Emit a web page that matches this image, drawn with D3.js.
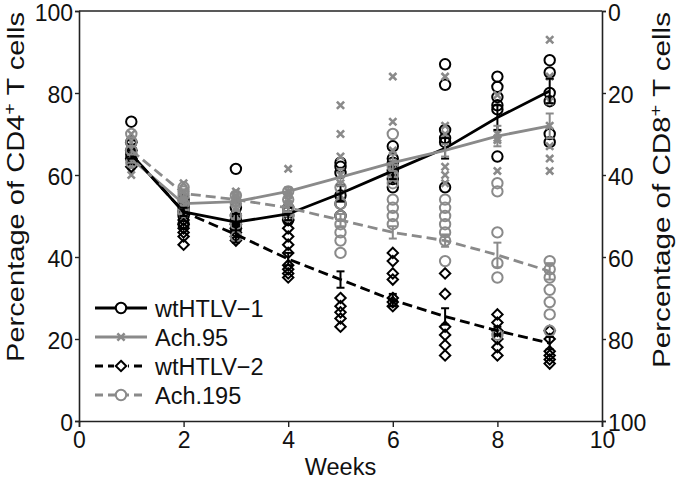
<!DOCTYPE html>
<html><head><meta charset="utf-8">
<script src="https://cdn.jsdelivr.net/npm/d3@7/dist/d3.min.js"></script>
<style>body{margin:0;background:#fff}svg text{font-family:"Liberation Sans",Arial,sans-serif}</style>
</head><body><svg id="c" width="680" height="482"></svg>
<script>
const weeks = [1,2,3,4,5,6,7,8,9];
const seriesNames = ["wtHTLV\u22121","Ach.95","wtHTLV\u22122","Ach.195"];
// mean values per week
const meanWt1 = [65, 51, 48.5, 50.5, 55.5, 61, 66.5, 74, 80.5];
const meanAch95 = [64, 53, 53.5, 56, 59.5, 63, 66, 69.5, 72];
const meanWt2 = [65, 51, 45.5, 39.5, 34.5, 29.5, 25.5, 22, 19];
const meanAch195 = [66, 55.5, 54, 52, 49, 46, 44, 40.5, 36.5];
// SEM
const semWt1 = [1, 1, 2, 1.5, 2, 2, 2.5, 3, 3];
const semAch95 = [1, 1, 1, 1, 2, 2, 1.5, 2.5, 3];
const semWt2 = [1, 1, 2, 1.5, 2, 1.5, 2, 1, 1.5];
const semAch195 = [1, 1, 1, 1, 1.5, 1.5, 1.5, 3, 2];
// individual values per week
const ptsWt1 = [[73,66,64,65,68],[48,50,51,52,53,54],[61.5,47,48,49,50,52],[49,50,51,52],[63,62,60.5,55,53,50],[67,64,63,61,59,57],[87,82,71,69,68,57],[84,81.5,79,77,76,64.5],[88,85,80,78,70,68]];
const ptsAch95 = [[60,62,64,66,68,70],[50,52,54,56,58],[50,52,54,55,56],[61.5,56,55,54,53],[77,70,64.5,60,58,55],[84,73,66,63,61,59],[84,72,70,62,60,58],[79.5,70,69,68.5,61],[93,84,78,72,67,64,61]];
const ptsWt2 = [[62,64,66,68],[43,45,46,47,48,49],[44,45,46,47,48],[49,47,45,43,41,38,37,36,35],[30,28,26.5,25,23],[41,39,36,34.5,30,29,28],[36,31,23,21,18.5,16],[26,24,22,20,18,16],[22,20,17,16,15,14]];
const ptsAch195 = [[63,66,68,70],[51,53,55,56,57],[45,48,50,53,55],[56,54,52,51,50],[57,53,50,48,46,44,41],[70,62,60,58,54,52,50,48],[54,52,50,48,46,44,39],[58,56,46,38.5,35,21],[39,37,35,32,29,26,22]];
const xTicks = [0,2,4,6,8,10];
const yTicks = [0,20,40,60,80,100];

const svg = d3.select("#c");
const L=79, R=602, T=11, B=421;
const FS=23;
const x = d3.scaleLinear().domain([0,10]).range([L,R]);
const y = d3.scaleLinear().domain([0,100]).range([B,T]);
const y2 = d3.scaleLinear().domain([0,100]).range([T,B]);
const GRAY="#8a8a8a";

const series = [
  {name:seriesNames[0], mean:meanWt1, sem:semWt1, pts:ptsWt1, color:"#000", dash:null, sym:"circle"},
  {name:seriesNames[1], mean:meanAch95, sem:semAch95, pts:ptsAch95, color:GRAY, dash:null, sym:"x"},
  {name:seriesNames[2], mean:meanWt2, sem:semWt2, pts:ptsWt2, color:"#000", dash:"10,5", sym:"diamond"},
  {name:seriesNames[3], mean:meanAch195, sem:semAch195, pts:ptsAch195, color:GRAY, dash:"10,5", sym:"circle"}
];

function marker(g, sym, cx, cy, color){
  if(sym==="circle"){
    g.append("circle").attr("cx",cx).attr("cy",cy).attr("r",5.2).attr("fill","none").attr("stroke",color).attr("stroke-width",2);
  } else if(sym==="diamond"){
    const s=5.2;
    g.append("path").attr("d",`M${cx},${cy-s}L${cx+s},${cy}L${cx},${cy+s}L${cx-s},${cy}Z`).attr("fill","none").attr("stroke",color).attr("stroke-width",2);
  } else {
    const s=3.6;
    g.append("path").attr("d",`M${cx-s},${cy-s}L${cx+s},${cy+s}M${cx-s},${cy+s}L${cx+s},${cy-s}`).attr("stroke",color).attr("stroke-width",2.6);
  }
}

// axes
const gx = svg.append("g").attr("transform",`translate(0,${B})`).call(d3.axisBottom(x).tickValues(xTicks).tickSize(6).tickPadding(5));
const gy = svg.append("g").attr("transform",`translate(${L},0)`).call(d3.axisLeft(y).tickValues(yTicks).tickSize(4).tickPadding(2));
const gy2 = svg.append("g").attr("transform",`translate(${R},0)`).call(d3.axisRight(y2).tickValues(yTicks).tickSize(4).tickPadding(2));
[gx,gy,gy2].forEach(g=>{
  g.select(".domain").attr("stroke","#222").attr("stroke-width",1.6);
  g.selectAll(".tick line").attr("stroke","#222").attr("stroke-width",1.4);
  g.selectAll(".tick text").attr("font-size",FS).attr("fill","#111");
});
[gy,gy2].forEach(g=>g.selectAll(".tick text").attr("dy","0.42em"));
svg.append("line").attr("x1",L).attr("x2",R).attr("y1",T).attr("y2",T).attr("stroke","#222").attr("stroke-width",1.6);

// points
const gp = svg.append("g");
series.forEach(s=>{
  s.pts.forEach((arr,i)=>arr.forEach(v=>marker(gp,s.sym,x(weeks[i]),y(v),s.color)));
});
// mean lines + error bars
const line = d3.line().x((d,i)=>x(weeks[i])).y(d=>y(d));
series.forEach(s=>{
  svg.append("path").attr("d",line(s.mean)).attr("fill","none").attr("stroke",s.color).attr("stroke-width",2.8).attr("stroke-dasharray",s.dash);
  s.mean.forEach((m,i)=>{
    const cx=x(weeks[i]);
    const g=svg.append("g").attr("stroke",s.color).attr("stroke-width",2);
    g.append("line").attr("x1",cx).attr("x2",cx).attr("y1",y(m-s.sem[i])).attr("y2",y(m+s.sem[i]));
    [m-s.sem[i],m+s.sem[i]].forEach(v=>g.append("line").attr("x1",cx-4).attr("x2",cx+4).attr("y1",y(v)).attr("y2",y(v)));
  });
});

// legend
const lg = svg.append("g");
const legY=[308,337,366,395];
series.forEach((s,i)=>{
  lg.append("line").attr("x1",95).attr("x2",147).attr("y1",legY[i]).attr("y2",legY[i]).attr("stroke",s.color).attr("stroke-width",2.8).attr("stroke-dasharray",s.dash?"8,5":null);
  const mg=lg.append("g");
  if(s.sym==="circle") mg.append("circle").attr("cx",121).attr("cy",legY[i]).attr("r",5.2).attr("fill","#fff");
  if(s.sym==="diamond") mg.append("rect").attr("x",114).attr("y",legY[i]-5).attr("width",14).attr("height",10).attr("fill","#fff");
  marker(mg,s.sym,121,legY[i],s.color);
  lg.append("text").attr("x",155).attr("y",legY[i]+8.5).attr("font-size",FS+0.5).attr("fill","#111").text(s.name);
});

// titles
svg.append("text").attr("x",(L+R)/2).attr("y",475).attr("text-anchor","middle").attr("font-size",FS+0.5).attr("fill","#111").text("Weeks");
function ytitle(tx, cy, label, target){
  const t=svg.append("text").attr("text-anchor","middle").attr("font-size",FS+0.5).attr("fill","#111");
  t.append("tspan").text("Percentage of "+label);
  t.append("tspan").attr("baseline-shift","super").attr("font-size",16).text("+");
  t.append("tspan").text(" T cells");
  const len=t.node().getBBox().width;
  t.attr("transform",`translate(${tx},${cy}) rotate(-90) scale(${target/len},1)`);
}
ytitle(24,187,"CD4",350);
ytitle(670,190,"CD8",356);
</script></body></html>
